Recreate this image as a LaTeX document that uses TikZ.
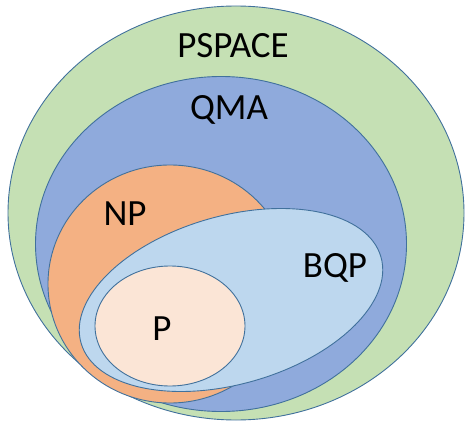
\documentclass[tikz,border=0pt]{standalone}
\usepackage{fontspec}
\setmainfont{Carlito}
\usetikzlibrary{shapes.geometric}
\definecolor{cgreen}{HTML}{C5E0B4}
\definecolor{cblue}{HTML}{8FAADC}
\definecolor{corange}{HTML}{F4B183}
\definecolor{clight}{HTML}{BDD7EE}
\definecolor{cpeach}{HTML}{FBE5D6}
\definecolor{cedge}{HTML}{41719C}
\tikzset{
  setshape/.style={ellipse, draw=cedge, line width=0.9pt, inner sep=0pt},
  setlabel/.style={font=\fontsize{37}{44}\selectfont, text=black, inner sep=0pt}
}
\begin{document}
\begin{tikzpicture}[x=1pt,y=1pt]
\useasboundingbox (0,0) rectangle (465,421);
\node[setshape, fill=cgreen, minimum width=456pt, minimum height=414pt] (pspace) at (236,208) {};
\node[setshape, fill=cblue, minimum width=371pt, minimum height=335pt] (qma) at (221,177) {};
\node[setshape, fill=corange, minimum width=244pt, minimum height=238pt] (np) at (170,137) {};
\node[setshape, fill=clight, minimum width=312pt, minimum height=168pt, rotate=16] (bqp) at (231,121) {};
\node[setshape, fill=cpeach, minimum width=150pt, minimum height=120pt] (p) at (170,95) {};
\node[setlabel] (lpspace) at (233,375) {PSPACE};
\node[setlabel] (lqma) at (229,311) {QMA};
\node[setlabel] (lnp) at (125,207) {NP};
\node[setlabel] (lbqp) at (335,153) {BQP};
\node[setlabel] (lp) at (162,92) {P};
\end{tikzpicture}
\end{document}
